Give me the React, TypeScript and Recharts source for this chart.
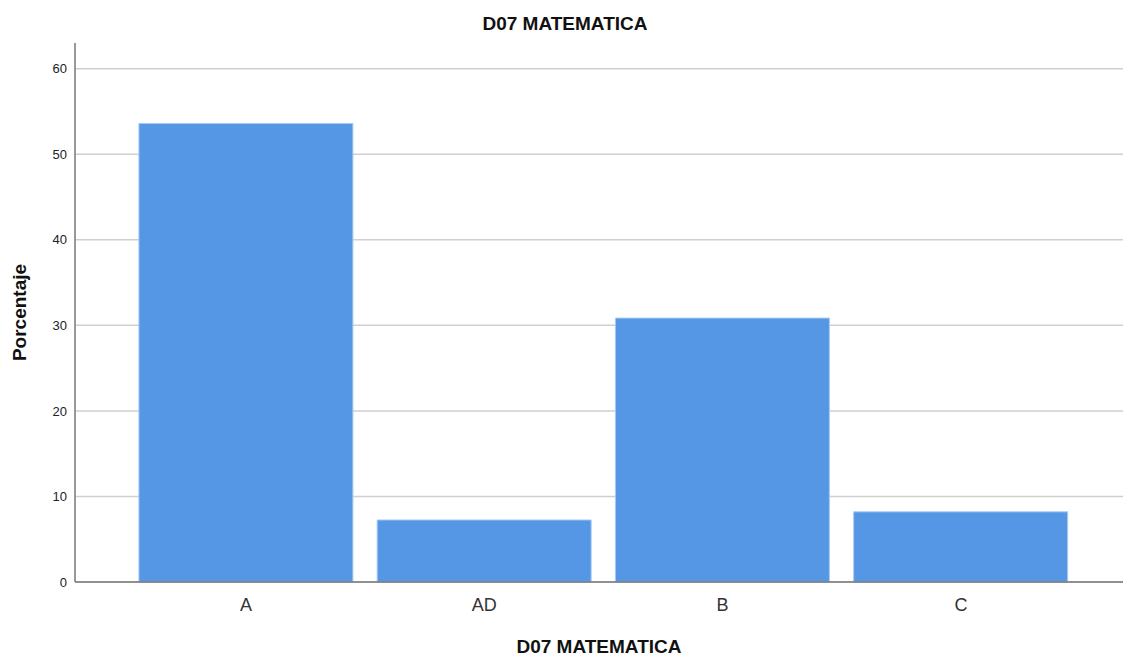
import React from 'react';
import { BarChart, Bar, XAxis, YAxis, CartesianGrid } from 'recharts';

const categories = ['A', 'AD', 'B', 'C'];
const percentages = [53.6, 7.25, 30.85, 8.2];
const yTicks = [0, 10, 20, 30, 40, 50, 60];

const data = categories.map((c, i) => ({ name: c, value: percentages[i] }));

const FONT = '"Liberation Sans", Arial, sans-serif';

export default function App() {
  return (
    <div style={{ position: 'absolute', left: 0, top: 0, width: 1123, height: 657, background: '#fff', fontFamily: FONT }}>
      <div
        style={{
          position: 'absolute',
          top: 13,
          left: 0,
          width: 1130,
          textAlign: 'center',
          fontSize: 19,
          fontWeight: 700,
          color: '#111',
        }}
      >
        D07 MATEMATICA
      </div>
      <BarChart
        width={1123}
        height={657}
        data={data}
        margin={{ top: 43, right: 0, left: 0, bottom: 0 }}
        barCategoryGap="5%"
      >
        <CartesianGrid vertical={false} syncWithTicks stroke="#cfcfcf" strokeWidth={1.5} />
        <XAxis
          dataKey="name"
          height={75}
          padding={{ left: 52, right: 43 }}
          tickLine={false}
          tickMargin={10}
          axisLine={{ stroke: '#777', strokeWidth: 1.5 }}
          tick={{ fontSize: 18, fill: '#333', fontFamily: FONT }}
          label={{
            value: 'D07 MATEMATICA',
            position: 'insideBottom',
            offset: 4,
            style: { fontSize: 19, fontWeight: 700, fill: '#111', fontFamily: FONT },
          }}
        />
        <YAxis
          width={75}
          domain={[0, 63]}
          ticks={yTicks}
          tickLine={false}
          tickMargin={2}
          axisLine={{ stroke: '#777', strokeWidth: 1.5 }}
          tick={{ fontSize: 13, fill: '#222', fontFamily: FONT }}
          label={{
            value: 'Porcentaje',
            angle: -90,
            position: 'insideLeft',
            offset: 19,
            style: { textAnchor: 'middle', fontSize: 19, fontWeight: 700, fill: '#111', fontFamily: FONT },
          }}
        />
        <Bar dataKey="value" fill="#5596e5" stroke="#a9cbf3" strokeWidth={1} isAnimationActive={false} />
      </BarChart>
    </div>
  );
}
